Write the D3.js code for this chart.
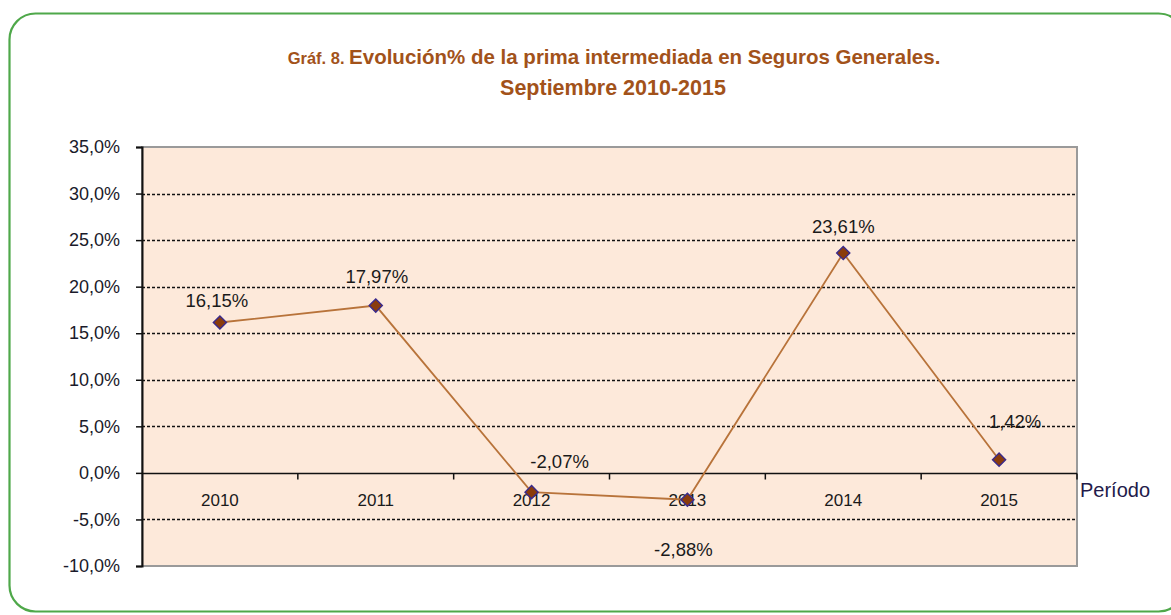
<!DOCTYPE html>
<html>
<head>
<meta charset="utf-8">
<script src="https://cdn.jsdelivr.net/npm/d3@7"></script>
<style>
  body { margin: 0; background: #fff; }
  svg { display: block; font-family: "Liberation Sans", Arial, sans-serif; }
</style>
</head>
<body>
<script>
// datos
var periodos = ["2010", "2011", "2012", "2013", "2014", "2015"];
var evolucion = [16.15, 17.97, -2.07, -2.88, 23.61, 1.42];
var etiquetas = ["16,15%", "17,97%", "-2,07%", "-2,88%", "23,61%", "1,42%"];
var yTicks = [-10, -5, 0, 5, 10, 15, 20, 25, 30, 35];

var W = 1171, H = 615;
var m = { left: 142, right: 1077, top: 147, bottom: 566 };

var svg = d3.select("body").append("svg").attr("width", W).attr("height", H);

// marco verde
svg.append("rect").attr("x", 9.5).attr("y", 13.5).attr("width", 1175).attr("height", 598)
  .attr("rx", 26).attr("fill", "#fff").attr("stroke", "#4fa84a").attr("stroke-width", 2.2);

// titulo
var t1 = svg.append("text").attr("x", 614).attr("y", 64).attr("text-anchor", "middle")
  .attr("fill", "#a2521a").attr("font-weight", "bold");
t1.append("tspan").attr("font-size", 16.5).text("Gráf. 8.  ");
t1.append("tspan").attr("font-size", 20.5).text("Evolución%  de la prima intermediada en Seguros Generales.");
svg.append("text").attr("x", 613).attr("y", 95).attr("text-anchor", "middle")
  .attr("fill", "#a2521a").attr("font-weight", "bold").attr("font-size", 21.5)
  .text("Septiembre 2010-2015");

var x = d3.scaleBand().domain(periodos).range([m.left, m.right]);
var y = d3.scaleLinear().domain([-10, 35]).range([m.bottom, m.top]);

// area de trazado
svg.append("rect").attr("x", m.left).attr("y", m.top)
  .attr("width", m.right - m.left).attr("height", m.bottom - m.top)
  .attr("fill", "#fde9da").attr("stroke", "#9a9a9a").attr("stroke-width", 2);

// lineas de division
svg.append("g").selectAll("line").data(yTicks.filter(function(d){ return d != 0 && d != -10 && d != 35; }))
  .enter().append("line")
  .attr("x1", m.left).attr("x2", m.right - 1)
  .attr("y1", function(d){ return Math.round(y(d)) + 0.5; })
  .attr("y2", function(d){ return Math.round(y(d)) + 0.5; })
  .attr("stroke", "#111").attr("stroke-width", 1.3).attr("stroke-dasharray", "3,2");

// eje Y
var yAxis = svg.append("g").attr("transform", "translate(" + m.left + ",0)")
  .call(d3.axisLeft(y).tickValues(yTicks).tickSize(6).tickPadding(16)
    .tickFormat(function(d){ return d.toFixed(1).replace(".", ",") + "%"; }));
yAxis.select(".domain").attr("stroke", "#111").attr("stroke-width", 2);
yAxis.selectAll(".tick line").attr("stroke", "#111").attr("stroke-width", 1.5);
yAxis.selectAll(".tick text").attr("font-size", 18).attr("fill", "#1a1a2a")
  .attr("font-family", "Liberation Sans, Arial, sans-serif");

// eje X en cero
var x0 = Math.round(y(0)) + 0.5;
svg.append("line").attr("x1", m.left).attr("x2", m.right).attr("y1", x0).attr("y2", x0)
  .attr("stroke", "#111").attr("stroke-width", 1.6);
svg.append("g").selectAll("line").data(periodos.slice(1).concat(["fin"]))
  .enter().append("line")
  .attr("x1", function(d, i){ return i < periodos.length - 1 ? x(d) : m.right; })
  .attr("x2", function(d, i){ return i < periodos.length - 1 ? x(d) : m.right; })
  .attr("y1", x0).attr("y2", x0 + 6).attr("stroke", "#111").attr("stroke-width", 1.5);
svg.append("g").selectAll("text").data(periodos).enter().append("text")
  .attr("x", function(d){ return x(d) + x.bandwidth() / 2; }).attr("y", 506)
  .attr("text-anchor", "middle").attr("font-size", 17).attr("fill", "#1a1a1a").text(function(d){ return d; });
svg.append("text").attr("x", 1080).attr("y", 497).attr("font-size", 20).attr("fill", "#231a4a").text("Período");

// serie
var pts = periodos.map(function(p, i){ return [x(p) + x.bandwidth() / 2, y(evolucion[i])]; });
svg.append("path").datum(pts).attr("d", d3.line()).attr("fill", "none")
  .attr("stroke", "#b8733a").attr("stroke-width", 1.8);
svg.append("g").selectAll("path").data(pts).enter().append("path")
  .attr("d", d3.symbol().type(d3.symbolDiamond2).size(110))
  .attr("transform", function(d){ return "translate(" + d[0] + "," + d[1] + ")"; })
  .attr("fill", "#8a3c0c").attr("stroke", "#3a2a8c").attr("stroke-width", 1.4);

// etiquetas de datos (desplazamiento manual como en el original)
var desplaz = [[-3, -16], [1, -23], [28, -24], [-4, 56], [0, -20], [16, -32]];
svg.append("g").selectAll("text").data(pts).enter().append("text")
  .attr("x", function(d, i){ return d[0] + desplaz[i][0]; })
  .attr("y", function(d, i){ return d[1] + desplaz[i][1]; })
  .attr("text-anchor", "middle").attr("font-size", 18.5).attr("fill", "#1a1a1a")
  .text(function(d, i){ return etiquetas[i]; });
</script>
</body>
</html>
